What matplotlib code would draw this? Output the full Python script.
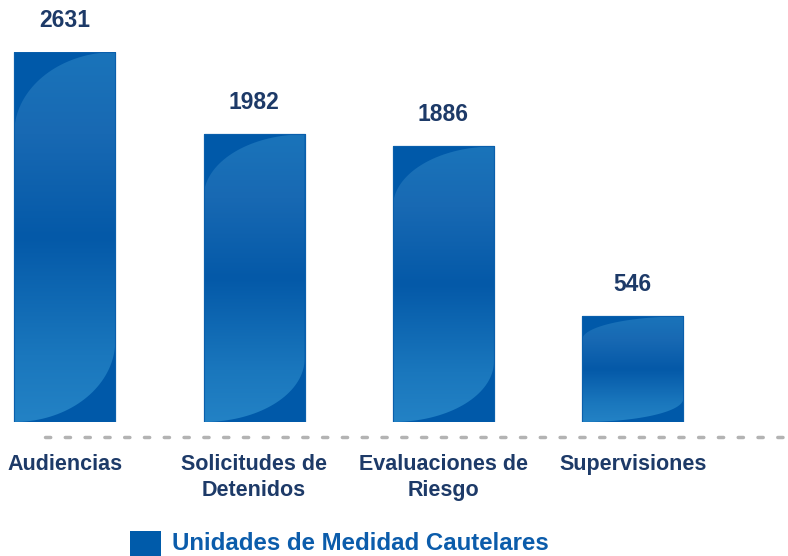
import numpy as np
import matplotlib
matplotlib.use("Agg")
import matplotlib.pyplot as plt
from matplotlib.patches import Polygon, Rectangle
from matplotlib.colors import LinearSegmentedColormap
import matplotlib.transforms as mtransforms

categories = ["Audiencias", "Solicitudes de\nDetenidos", "Evaluaciones de\nRiesgo", "Supervisiones"]
values = [2631, 1982, 1886, 546]
series_name = "Unidades de Medidad Cautelares"
axis_floor = -287  # value axis minimum (bars rise from the axis floor)

TEXT_COLOR = "#1D3A68"
BASE_COLOR = "#0059A9"
LEGEND_COLOR = "#0B5CAB"

plt.rcParams["font.family"] = ["Liberation Sans", "DejaVu Sans"]

W, H = 788, 556
fig = plt.figure(figsize=(W / 100, H / 100), dpi=100)
ax = fig.add_axes([0, 1 - 422 / H, 1, 370 / H])
ax.set_xlim(-0.342, 3.820)
ax.set_ylim(axis_floor, max(values))
ax.axis("off")

x = np.arange(len(values))
bar_w = 0.534
heights = [v - axis_floor for v in values]
bars = ax.bar(x, heights, bottom=axis_floor, width=bar_w, color=BASE_COLOR,
              edgecolor="#0A63AF", linewidth=0.8, zorder=2)

cmap = LinearSegmentedColormap.from_list(
    "glass",
    [(0.0, "#2382C5"), (0.18, "#1A77BD"), (0.5, "#0459A8"), (0.78, "#1869B3"), (1.0, "#1A74BA")],
)
grad = np.linspace(0, 1, 256).reshape(-1, 1)

for rect, v in zip(bars.patches, values):
    x0 = rect.get_x()
    w = rect.get_width()
    x1 = x0 + w
    y0 = rect.get_y()
    y1 = y0 + rect.get_height()
    c = 0.22 * rect.get_height()
    t = np.linspace(0, np.pi / 2, 40)
    top = np.column_stack([x1 - w * np.cos(t), (y1 - c) + c * np.sin(t)])
    bot = np.column_stack([x0 + w * np.cos(t), (y0 + c) - c * np.sin(t)])
    pts = np.vstack([top, bot])
    poly = Polygon(pts, closed=True, transform=ax.transData, facecolor="none", edgecolor="none")
    im = ax.imshow(grad, cmap=cmap, origin="lower", extent=(x0, x1, y0, y1), aspect="auto", zorder=3,
                   interpolation="bilinear")
    im.set_clip_path(poly)
    ax.add_patch(Rectangle((x0, y0), w, y1 - y0, facecolor="none", edgecolor="#0A5FAC",
                           linewidth=0.8, zorder=4))
    ax.annotate(f"{v}", (x0 + w / 2, y1), xytext=(0, 18), textcoords="offset points",
                ha="center", va="baseline", fontsize=16.5, fontweight="bold", color=TEXT_COLOR,
                annotation_clip=False)

ax.set_xlim(-0.342, 3.820)
ax.set_ylim(axis_floor, max(values))

trans_x_data = mtransforms.blended_transform_factory(ax.transData, fig.transFigure)
ax.plot([-0.105, 3.84], [1 - 437 / H, 1 - 437 / H], transform=trans_x_data, color="#B3B3B3",
        linewidth=2.5, dashes=(1.5, 4.2), dash_capstyle="round", clip_on=False, zorder=1)

for xi, lab in zip(x, categories):
    ax.text(xi, 1 - 454 / H, lab, transform=trans_x_data, ha="center", va="top",
            fontsize=15.5, fontweight="bold", color=TEXT_COLOR, linespacing=1.3)

fig.patches.append(Rectangle((130 / W, 1 - 561 / H), 31 / W, 30 / H, transform=fig.transFigure,
                             facecolor="#005BAA", edgecolor="none"))
fig.text(172 / W, 1 - 550 / H, series_name, ha="left", va="baseline", fontsize=17.3,
         fontweight="bold", color=LEGEND_COLOR)

fig.savefig("out.png", dpi=100)
